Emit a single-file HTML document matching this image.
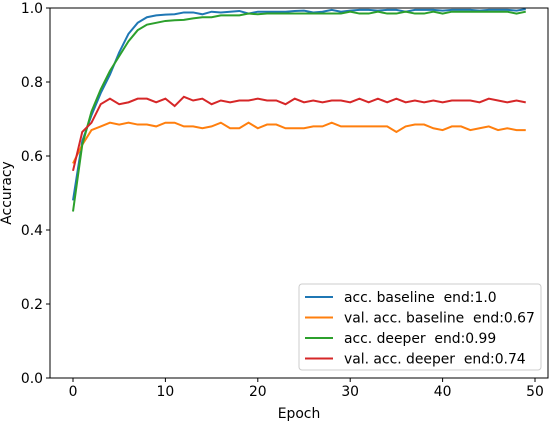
<!DOCTYPE html>
<html><head><meta charset="utf-8"><style>
body{margin:0;background:#fff;font-family:"Liberation Sans","DejaVu Sans",sans-serif}
svg text{font-family:"DejaVu Sans","Liberation Sans",sans-serif;font-size:13.9px;fill:#000}
</style></head><body>
<svg id="c" width="551" height="423"></svg>
<script>
const epochs=[...Array(50).keys()];
const accBaseline=[0.48,0.64,0.71,0.77,0.82,0.88,0.93,0.96,0.975,0.98,0.982,0.983,0.988,0.988,0.983,0.99,0.988,0.99,0.992,0.985,0.99,0.99,0.99,0.99,0.992,0.993,0.988,0.99,0.995,0.99,0.993,0.995,0.995,0.993,0.995,0.995,0.99,0.995,0.995,0.995,0.993,0.995,0.995,0.995,0.993,0.995,0.995,0.995,0.993,0.997];
const valBaseline=[0.58,0.63,0.67,0.68,0.69,0.685,0.69,0.685,0.685,0.68,0.69,0.69,0.68,0.68,0.675,0.68,0.69,0.675,0.675,0.69,0.675,0.685,0.685,0.675,0.675,0.675,0.68,0.68,0.69,0.68,0.68,0.68,0.68,0.68,0.68,0.665,0.68,0.685,0.685,0.675,0.67,0.68,0.68,0.67,0.675,0.68,0.67,0.675,0.67,0.67];
const accDeeper=[0.45,0.63,0.72,0.78,0.83,0.87,0.91,0.94,0.955,0.96,0.965,0.967,0.968,0.972,0.975,0.975,0.98,0.98,0.98,0.985,0.983,0.985,0.985,0.985,0.985,0.985,0.985,0.985,0.985,0.985,0.99,0.985,0.985,0.99,0.985,0.985,0.99,0.985,0.985,0.99,0.985,0.99,0.99,0.99,0.99,0.99,0.99,0.99,0.985,0.99];
const valDeeper=[0.56,0.665,0.69,0.74,0.755,0.74,0.745,0.755,0.755,0.745,0.755,0.735,0.76,0.75,0.755,0.74,0.75,0.745,0.75,0.75,0.755,0.75,0.75,0.74,0.755,0.745,0.75,0.745,0.75,0.75,0.745,0.755,0.745,0.755,0.745,0.755,0.745,0.75,0.745,0.75,0.745,0.75,0.75,0.75,0.745,0.755,0.75,0.745,0.75,0.745];
const xTicks=[0,10,20,30,40,50];
const yTicks=[0,0.2,0.4,0.6,0.8,1.0];
const yTickLabels=["0.0","0.2","0.4","0.6","0.8","1.0"];
const seriesNames=["acc. baseline  end:1.0","val. acc. baseline  end:0.67","acc. deeper  end:0.99","val. acc. deeper  end:0.74"];
const colors=["#1f77b4","#ff7f0e","#2ca02c","#d62728"];
const L=50,R=548,T=8,B=378;
const xs=v=>73+(v)*(535-73)/50;
const ys=v=>B-(v)*(B-T);
const svg=document.getElementById('c');
const NS='http://www.w3.org/2000/svg';
function mk(t,a,p){const e=document.createElementNS(NS,t);for(const k in a)e.setAttribute(k,a[k]);(p||svg).appendChild(e);return e;}
const cp=mk('clipPath',{id:'cp'});mk('rect',{x:L,y:T,width:R-L,height:B-T},cp);
[accBaseline,valBaseline,accDeeper,valDeeper].forEach((s,i)=>{
 const p=mk('polyline',{points:s.map((v,j)=>xs(epochs[j])+','+ys(v)).join(' '),fill:'none',stroke:colors[i],'stroke-width':2,'clip-path':'url(#cp)'});
 
 
});
const fr=mk('rect',{x:L,y:T,width:R-L,height:B-T,fill:'none',stroke:'#000','stroke-width':1});


xTicks.forEach(v=>{mk('line',{x1:xs(v),x2:xs(v),y1:B,y2:B+4,stroke:'#000'});
 const t=mk('text',{x:xs(v),y:B+18,'text-anchor':'middle'});t.textContent=v;
 
 });
yTicks.forEach((v,i)=>{mk('line',{x1:L-4,x2:L,y1:ys(v),y2:ys(v),stroke:'#000'});
 const t=mk('text',{x:L-7,y:ys(v)+5,'text-anchor':'end'});t.textContent=yTickLabels[i];
 
 });
let t=mk('text',{x:299,y:418,'text-anchor':'middle'});t.textContent='Epoch';


t=mk('text',{x:0,y:0,'text-anchor':'middle',transform:'translate(11,193) rotate(-90)'});t.textContent='Accuracy';


const lg=mk('g',{});


mk('rect',{x:299,y:284,width:242,height:86,rx:3,fill:'#fff','fill-opacity':0.8,stroke:'#ccc'},lg);
seriesNames.forEach((n,i)=>{const y=297+i*20.5;
 mk('line',{x1:305,x2:333,y1:y,y2:y,stroke:colors[i],'stroke-width':2},lg);
 const tx=mk('text',{x:344,y:y+5,'xml:space':'preserve'},lg);tx.textContent=n;
 tx.setAttribute('style','white-space:pre');
 
 });
</script>
</body></html>
